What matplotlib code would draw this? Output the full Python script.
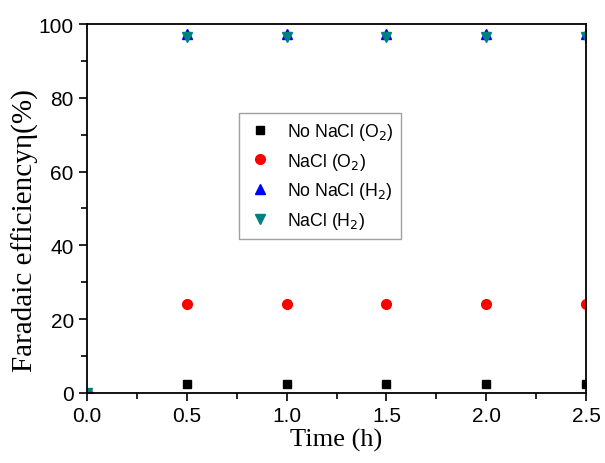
import matplotlib.pyplot as plt
from matplotlib.ticker import MultipleLocator

time_h = [0.0, 0.5, 1.0, 1.5, 2.0, 2.5]
no_nacl_o2 = [0, 2.5, 2.5, 2.5, 2.5, 2.5]
nacl_o2 = [0, 24, 24, 24, 24, 24]
no_nacl_h2 = [0, 97.3, 97.3, 97.3, 97.3, 97.3]
nacl_h2 = [0, 96.6, 96.6, 96.6, 96.6, 96.6]


def main():
    plt.rcParams['font.family'] = ['Liberation Sans', 'DejaVu Sans']
    fig = plt.figure(figsize=(6.05, 4.64), dpi=100)
    ax = fig.add_axes([0.1438, 0.1509, 0.8248, 0.7952])

    ax.plot(time_h, no_nacl_o2, 's', color='black', ms=6, label='No NaCl (O$_2$)')
    ax.plot(time_h, nacl_o2, 'o', color='#ff0000', ms=7, label='NaCl (O$_2$)')
    ax.plot(time_h, no_nacl_h2, '^', color='#0000ff', ms=7, label='No NaCl (H$_2$)')
    ax.plot(time_h, nacl_h2, 'v', color='#008080', ms=7, label='NaCl (H$_2$)')

    ax.set_xlim(0, 2.5)
    ax.set_ylim(0, 100)
    ax.xaxis.set_major_locator(MultipleLocator(0.5))
    ax.xaxis.set_minor_locator(MultipleLocator(0.25))
    ax.yaxis.set_major_locator(MultipleLocator(20))
    ax.yaxis.set_minor_locator(MultipleLocator(10))
    ax.tick_params(which='both', direction='out', top=False, right=False, labelsize=15)
    ax.tick_params(which='major', length=6, width=1.2)
    ax.tick_params(which='minor', length=4, width=1.2)
    for s in ax.spines.values():
        s.set_linewidth(1.3)

    ax.set_xlabel('Time (h)', family='Liberation Serif', fontsize=19, labelpad=2)
    ax.set_ylabel('Faradaic efficiencyη(%)', family='Liberation Serif', fontsize=21)
    ax.yaxis.set_label_coords(-0.096, 0.444)

    leg = ax.legend(loc='center', bbox_to_anchor=(0.467, 0.588), fontsize=12.7,
                    fancybox=False, edgecolor='#888888', handletextpad=0.8,
                    borderpad=0.45, labelspacing=0.5, handlelength=1.5)
    leg.get_frame().set_linewidth(1.0)

    fig.savefig('out.png')


if __name__ == '__main__':
    main()
